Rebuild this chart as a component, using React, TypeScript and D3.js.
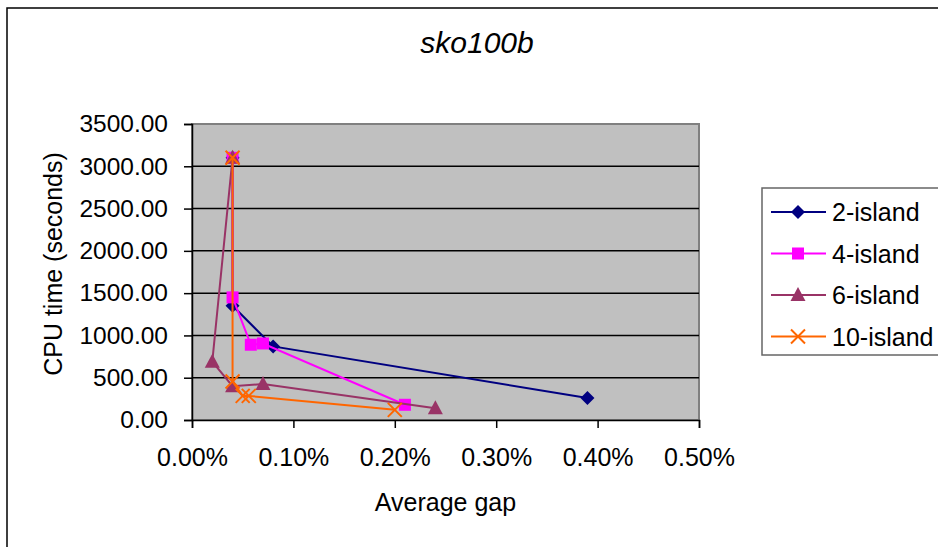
import React, { useEffect, useRef } from 'react';
import * as d3 from 'd3';

// average gap in percent, cpu time in seconds
const seriesNames = ['2-island', '4-island', '6-island', '10-island'];
const gap2 = [0.04, 0.04, 0.08, 0.39];
const cpu2 = [3100, 1350, 870, 260];
const gap4 = [0.04, 0.04, 0.058, 0.07, 0.21];
const cpu4 = [3100, 1450, 890, 905, 180];
const gap6 = [0.04, 0.02, 0.04, 0.07, 0.24];
const cpu6 = [3100, 690, 400, 425, 140];
const gap10 = [0.04, 0.04, 0.05, 0.056, 0.2];
const cpu10 = [3100, 455, 285, 285, 120];
const xTicks = [0, 0.1, 0.2, 0.3, 0.4, 0.5];
const yTicks = [0, 500, 1000, 1500, 2000, 2500, 3000, 3500];

const colors = ['#000080', '#ff00ff', '#993366', '#ff6600'];
const markers = ['diamond', 'square', 'triangle', 'cross'];
const FONT = 'Arial, "Liberation Sans", sans-serif';

function App() {
  const ref = useRef<SVGSVGElement>(null);

  useEffect(() => {
    const W = 938;
    const H = 547;
    const svg = d3.select(ref.current);
    svg.selectAll('*').remove();

    const left = 192;
    const right = 699;
    const top = 124;
    const bottom = 420;

    const x = d3.scaleLinear().domain([0, 0.5]).range([left, right]);
    const y = d3.scaleLinear().domain([0, 3500]).range([bottom, top]);

    // chart frame
    svg.append('rect').attr('width', W).attr('height', H).attr('fill', '#fff');
    svg
      .append('rect')
      .attr('x', 7)
      .attr('y', 8)
      .attr('width', W + 10)
      .attr('height', H + 10)
      .attr('fill', 'none')
      .attr('stroke', '#000')
      .attr('stroke-width', 1.5);

    // title
    svg
      .append('text')
      .attr('x', 477)
      .attr('y', 53)
      .attr('text-anchor', 'middle')
      .attr('font-family', FONT)
      .attr('font-style', 'italic')
      .attr('font-size', 30)
      .text('sko100b');

    // plot area
    svg
      .append('rect')
      .attr('x', left)
      .attr('y', top)
      .attr('width', right - left)
      .attr('height', bottom - top)
      .attr('fill', '#c0c0c0')
      .attr('stroke', '#808080')
      .attr('stroke-width', 2);

    // gridlines
    svg
      .append('g')
      .selectAll('line')
      .data(yTicks.filter((t) => t > 0 && t < 3500))
      .join('line')
      .attr('x1', left)
      .attr('x2', right)
      .attr('y1', (d) => y(d))
      .attr('y2', (d) => y(d))
      .attr('stroke', '#000')
      .attr('stroke-width', 1.5);

    // y axis
    const yAxis = svg.append('g').attr('transform', `translate(${left},0)`);
    yAxis
      .call(
        d3
          .axisLeft(y)
          .tickValues(yTicks)
          .tickSize(8)
          .tickPadding(16)
          .tickFormat((d) => (d as number).toFixed(2))
      )
      .call((g) => g.selectAll('path,line').attr('stroke', '#000').attr('stroke-width', 1.5))
      .call((g) =>
        g.selectAll('text').attr('font-family', FONT).attr('font-size', 24.5).attr('fill', '#000')
      );

    // x axis
    const xAxis = svg.append('g').attr('transform', `translate(0,${bottom})`);
    xAxis
      .call(
        d3
          .axisBottom(x)
          .tickValues(xTicks)
          .tickSize(8)
          .tickPadding(20)
          .tickFormat((d) => (d as number).toFixed(2) + '%')
      )
      .call((g) => g.selectAll('path,line').attr('stroke', '#000').attr('stroke-width', 1.5))
      .call((g) =>
        g.selectAll('text').attr('font-family', FONT).attr('font-size', 25).attr('fill', '#000')
      );

    // axis titles
    svg
      .append('text')
      .attr('x', (left + right) / 2)
      .attr('y', 511)
      .attr('text-anchor', 'middle')
      .attr('font-family', FONT)
      .attr('font-size', 25)
      .text('Average gap');
    svg
      .append('text')
      .attr('transform', 'translate(62,264) rotate(-90)')
      .attr('text-anchor', 'middle')
      .attr('font-family', FONT)
      .attr('font-size', 25)
      .text('CPU time (seconds)');

    const drawMarker = (g: any, kind: string, cx: number, cy: number, color: string) => {
      if (kind === 'diamond') {
        g.append('path')
          .attr('d', `M${cx},${cy - 7}L${cx + 7},${cy}L${cx},${cy + 7}L${cx - 7},${cy}Z`)
          .attr('fill', color);
      } else if (kind === 'square') {
        g.append('rect')
          .attr('x', cx - 6)
          .attr('y', cy - 6)
          .attr('width', 12)
          .attr('height', 12)
          .attr('fill', color);
      } else if (kind === 'triangle') {
        g.append('path')
          .attr('d', `M${cx},${cy - 8}L${cx + 7.5},${cy + 6}L${cx - 7.5},${cy + 6}Z`)
          .attr('fill', color);
      } else {
        g.append('path')
          .attr('d', `M${cx - 7},${cy - 7}L${cx + 7},${cy + 7}M${cx - 7},${cy + 7}L${cx + 7},${cy - 7}`)
          .attr('stroke', color)
          .attr('stroke-width', 2)
          .attr('fill', 'none');
      }
    };

    const series = [
      { gap: gap2, cpu: cpu2 },
      { gap: gap4, cpu: cpu4 },
      { gap: gap6, cpu: cpu6 },
      { gap: gap10, cpu: cpu10 },
    ];

    series.forEach((s, i) => {
      const pts: [number, number][] = s.gap.map((g, j) => [x(g), y(s.cpu[j])]);
      const g = svg.append('g');
      g.append('path')
        .attr('d', d3.line()(pts))
        .attr('fill', 'none')
        .attr('stroke', colors[i])
        .attr('stroke-width', 2);
      pts.forEach((p) => drawMarker(g, markers[i], p[0], p[1], colors[i]));
    });

    // legend
    const legend = svg.append('g');
    legend
      .append('rect')
      .attr('x', 762)
      .attr('y', 188)
      .attr('width', 200)
      .attr('height', 167)
      .attr('fill', '#fff')
      .attr('stroke', '#666')
      .attr('stroke-width', 1.5);
    seriesNames.forEach((name, i) => {
      const ly = 212 + i * 41.5;
      legend
        .append('line')
        .attr('x1', 771)
        .attr('x2', 826)
        .attr('y1', ly)
        .attr('y2', ly)
        .attr('stroke', colors[i])
        .attr('stroke-width', 2);
      drawMarker(legend, markers[i], 798, ly, colors[i]);
      legend
        .append('text')
        .attr('x', 832)
        .attr('y', ly + 9)
        .attr('font-family', FONT)
        .attr('font-size', 25)
        .text(name);
    });
  }, []);

  return (
    <svg
      ref={ref}
      width={938}
      height={547}
      style={{ position: 'absolute', left: 0, top: 0, display: 'block' }}
    />
  );
}

export default App;
